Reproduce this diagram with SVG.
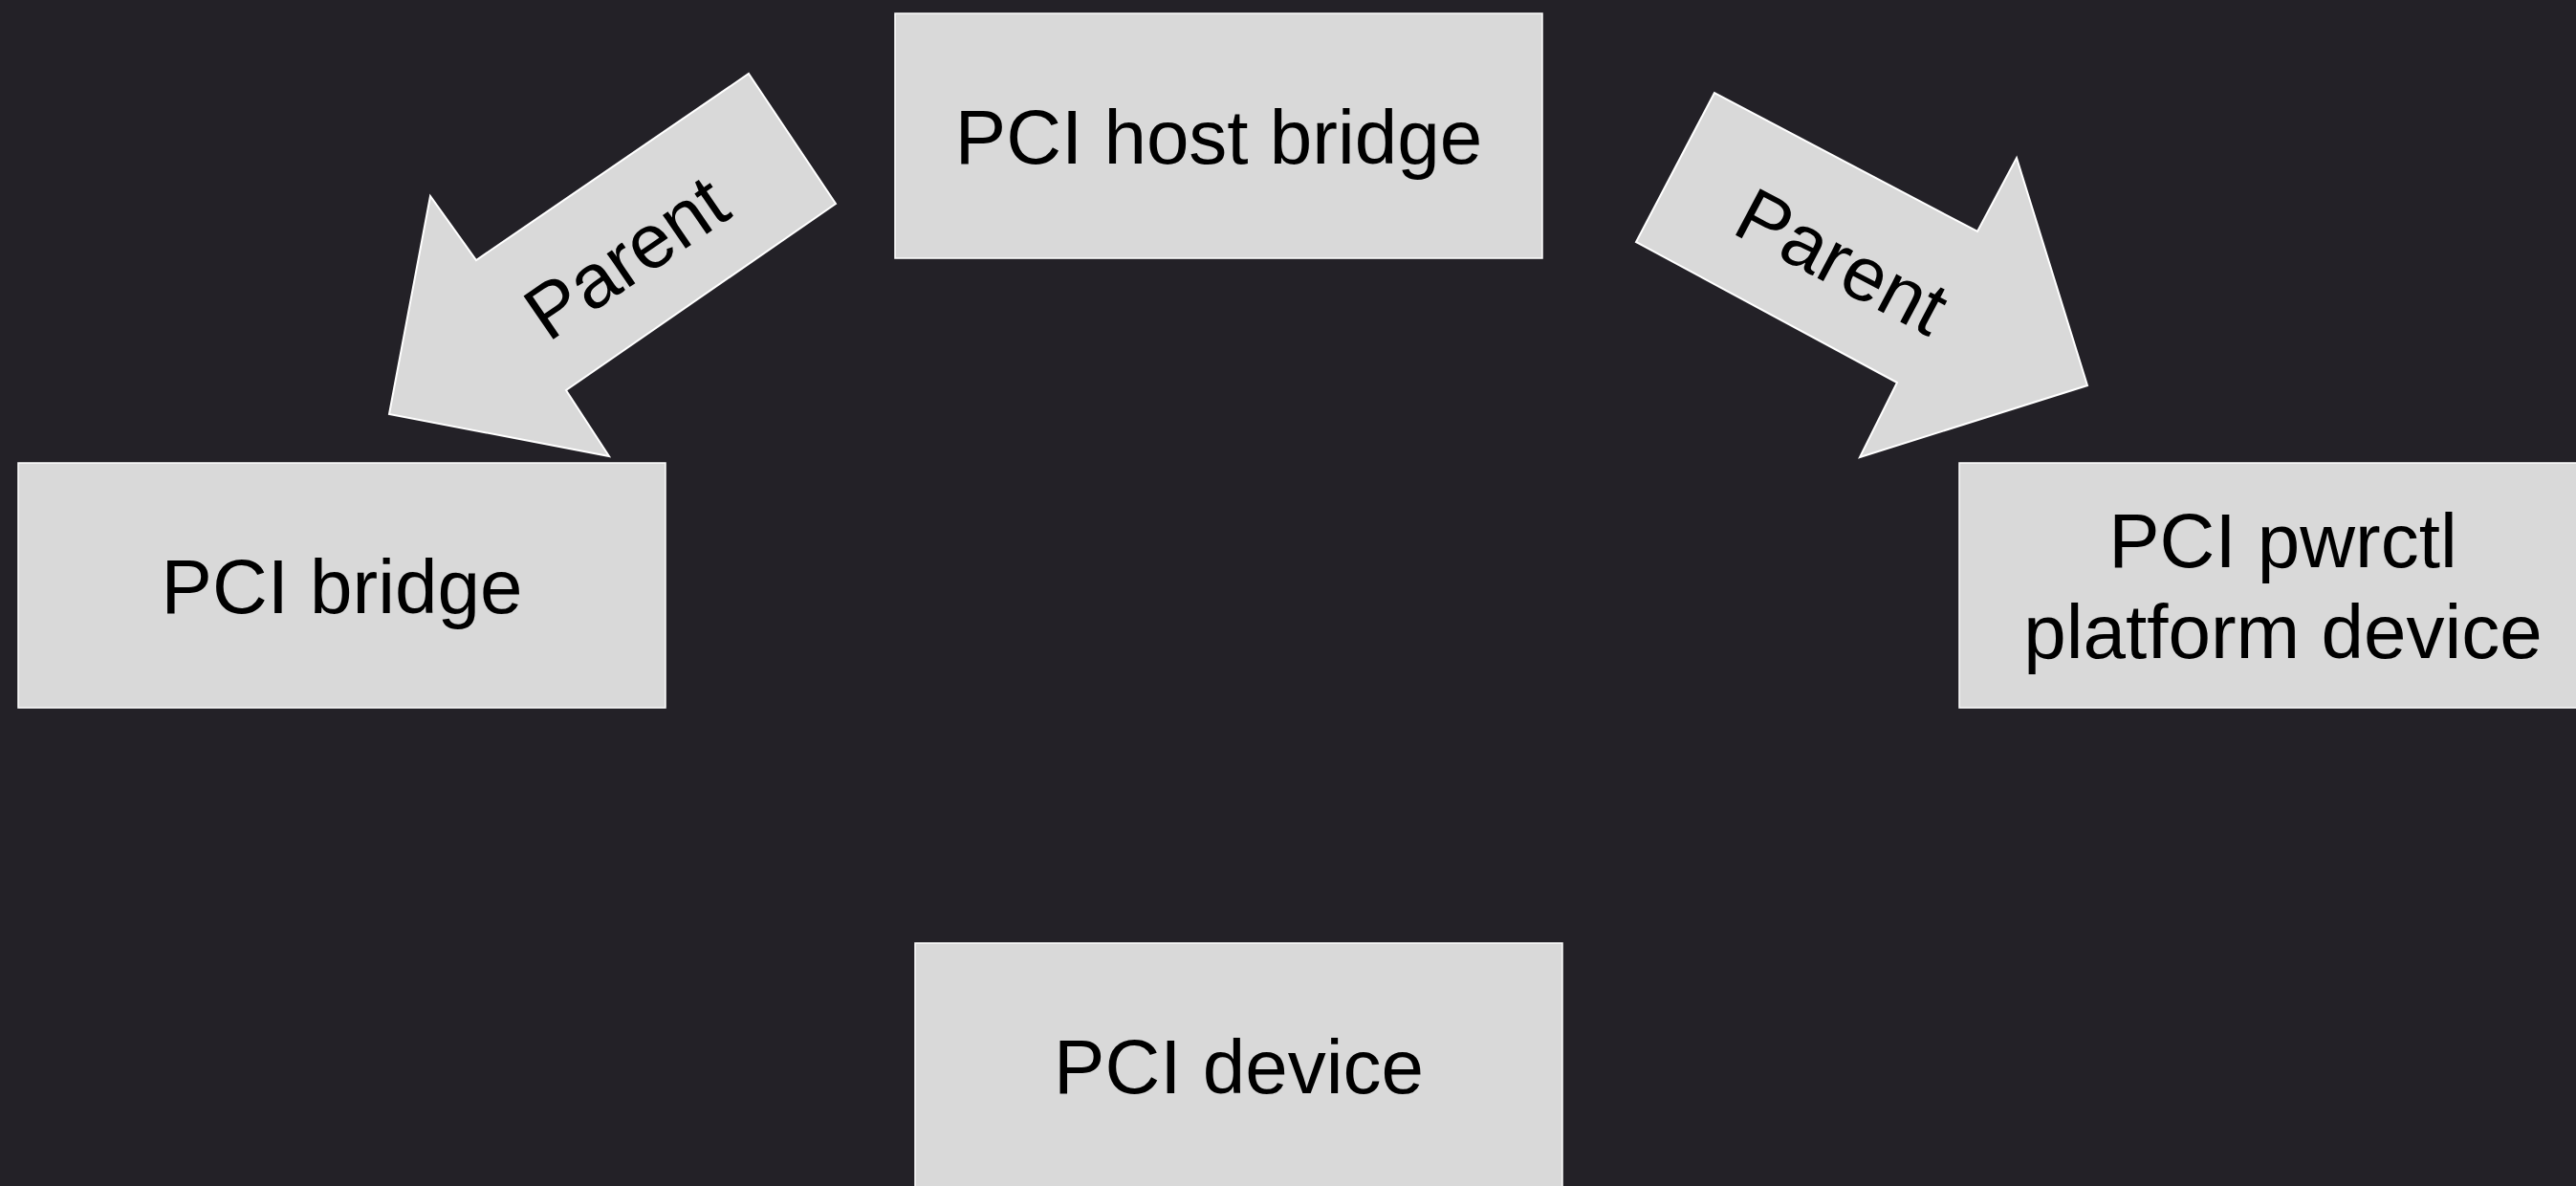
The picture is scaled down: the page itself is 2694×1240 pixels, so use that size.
<svg xmlns="http://www.w3.org/2000/svg" width="2694" height="1240" viewBox="0 0 2694 1240">
<style>
.box{fill:#d9d9d9;stroke:#ffffff;stroke-width:1.5}
.arrow{fill:#d9d9d9;stroke:#ffffff;stroke-width:2;stroke-linejoin:miter}
.lbl{font-family:"Liberation Sans",Arial,sans-serif;font-size:80px;fill:#000000;text-anchor:middle}
</style>
<rect x="0" y="0" width="2694" height="1240" fill="#232127"/>
<g id="connectors">
  <g id="edge-host-bridge">
    <polygon class="arrow" points="783,77 874,213 592,408 637,477 407,433 450,205 498,272"/>
    <text class="lbl" transform="translate(654,268) rotate(-34.4)" x="0" y="29">Parent</text>
  </g>
  <g id="edge-host-pwrctl">
    <polygon class="arrow" points="1793,97 1711,253 1984,400 1945,478 2183,403 2109,165 2068,242"/>
    <text class="lbl" transform="translate(1927,272) rotate(27.8)" x="0" y="29">Parent</text>
  </g>
</g>
<g id="host-bridge">
  <rect class="box" x="936" y="14" width="677" height="256"/>
  <text class="lbl" x="1274.5" y="171">PCI host bridge</text>
</g>
<g id="pci-bridge">
  <rect class="box" x="19" y="484" width="677" height="256"/>
  <text class="lbl" x="357.5" y="641">PCI bridge</text>
</g>
<g id="pwrctl">
  <rect class="box" x="2049" y="484" width="677" height="256"/>
  <text class="lbl" x="2387.5" y="593">PCI pwrctl</text>
  <text class="lbl" x="2387.5" y="688">platform device</text>
</g>
<g id="pci-device">
  <rect class="box" x="957" y="986" width="677" height="256"/>
  <text class="lbl" x="1295.5" y="1143">PCI device</text>
</g>
</svg>
